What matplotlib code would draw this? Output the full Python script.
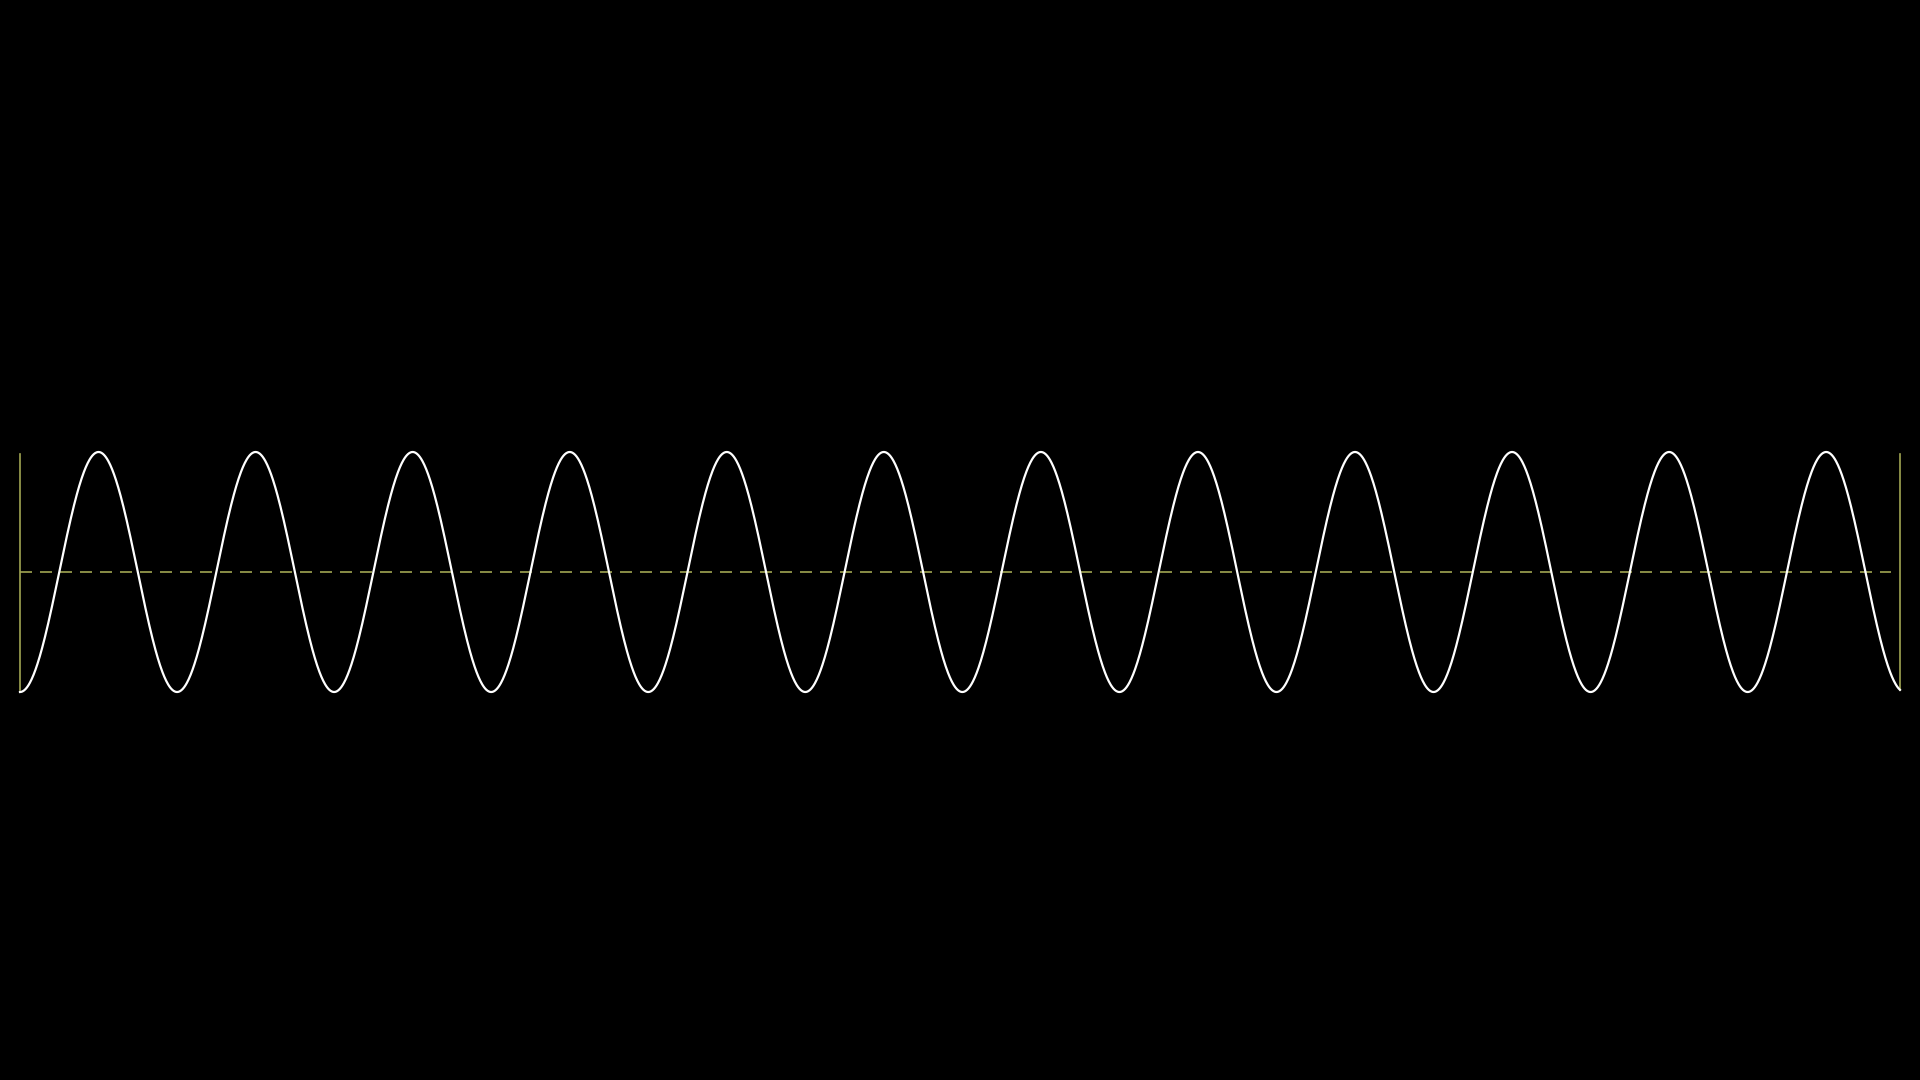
import numpy as np
import matplotlib
matplotlib.use("Agg")
import matplotlib.pyplot as plt

# wave: just under 12 cycles, starts at a trough
cycles = 11.97
amplitude = 1.0
midline = 0.0
phase = np.pi          # -cos shape: begins at the bottom
n_samples = 4000

# guides
marker_x = [0.0, 1.0]          # solid vertical bars at both ends
marker_span = [-0.98, 0.98]
dash_span = [0.0, 0.995]       # dashed midline

t = np.linspace(0, 1, n_samples)
wave = midline + amplitude * np.cos(2 * np.pi * cycles * t + phase)

fig = plt.figure(figsize=(19.2, 10.8), dpi=100, facecolor='black')
ax = fig.add_axes([20 / 1920, 388 / 1080, 1880 / 1920, 240 / 1080])
ax.set_facecolor('black')

guide_col = '#a0a552'
for xv in marker_x:
    ax.plot([xv, xv], marker_span, color=guide_col, lw=1.2, clip_on=False)
ax.plot(dash_span, [midline, midline], color=guide_col, lw=1.2,
        dashes=(7.2, 4.8), clip_on=False)

ax.plot(t, wave, color='white', lw=1.6, clip_on=False)

ax.set_xlim(0, 1)
ax.set_ylim(-1, 1)
ax.axis('off')

fig.savefig('out.png', dpi=100, facecolor='black')
